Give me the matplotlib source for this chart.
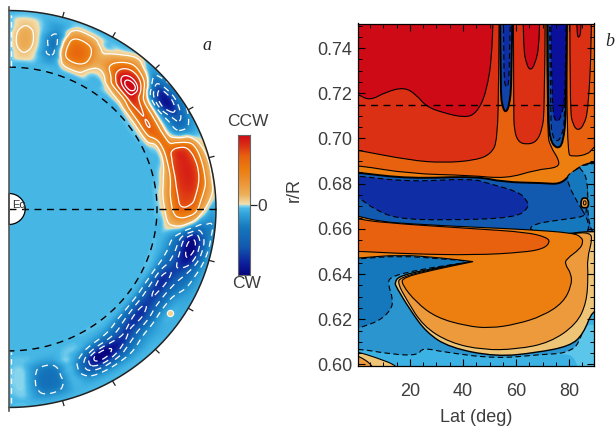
import numpy as np
import matplotlib
matplotlib.use("Agg")
import matplotlib.pyplot as plt
import matplotlib.tri as mtri
from matplotlib.colors import LinearSegmentedColormap
from matplotlib.patches import PathPatch, Polygon
from matplotlib.path import Path

plt.rcParams['font.family'] = ['Liberation Sans', 'DejaVu Sans']

TEXT = '#3d3d3d'

# panel a: rotation, one row per latitude, columns are r_a
r_a = [0.70, 0.74, 0.78, 0.82, 0.86, 0.90, 0.94, 0.98, 1.02]
lat_a = [90, 85, 80, 75, 70, 65, 60, 55, 50, 45, 40, 35, 30, 25, 20, 15, 10, 5, 0,
         -5, -10, -15, -20, -25, -30, -35, -40, -45, -50, -55, -60, -65, -70, -75, -80, -85, -90]
field_a = [
    [-.05, -.05, -.05, -.05, -.05, -.05, -.05, -.05, -.05],
    [-.05, -.05, .08, .18, .20, .18, .08, -.03, -.05],
    [-.05, -.05, -.03, -.03, -.03, -.03, -.03, -.05, -.05],
    [-.05, -.05, -.17, -.30, -.34, -.28, -.15, -.07, -.05],
    [-.05, -.05, .16, .50, .56, .50, .22, -.02, -.05],
    [-.05, -.05, .20, .54, .60, .50, .20, -.03, -.05],
    [-.05, -.05, -.03, .10, .22, .12, -.03, -.05, -.05],
    [-.05, -.05, -.03, .16, .50, .42, .14, -.03, -.05],
    [-.05, -.05, .18, .82, 1.05, .85, .45, .10, -.05],
    [-.05, -.05, .34, 1.0, 1.15, .72, .14, -.18, -.05],
    [-.05, .02, .60, .78, .28, -.40, -.70, -.35, -.10],
    [-.05, .05, .66, .66, .05, -.70, -.95, -.45, -.10],
    [-.05, .05, .66, .60, .00, -.35, -.62, -.32, -.10],
    [-.05, -.03, .12, .64, .10, -.14, -.22, -.15, -.05],
    [-.05, -.05, .02, .66, .82, .76, .50, .06, -.05],
    [-.05, -.04, .14, .74, .88, .88, .68, .18, -.05],
    [-.05, .00, .28, .76, .88, .88, .66, .18, -.05],
    [-.05, .05, .40, .74, .82, .78, .44, .14, -.05],
    [-.05, .02, .34, .66, .68, .55, .14, -.10, -.05],
    [-.05, -.05, .14, .22, .12, -.10, -.28, -.28, -.08],
    [-.05, -.05, -.12, -.30, -.70, -1.0, -.68, -.28, -.08],
    [-.05, -.05, -.18, -.42, -.78, -1.0, -.65, -.24, -.06],
    [-.05, -.05, -.26, -.55, -.72, -.65, -.38, -.17, -.05],
    [-.05, -.06, -.42, -.80, -.65, -.42, -.26, -.13, -.05],
    [-.05, -.10, -.50, -.76, -.55, -.26, -.12, -.10, -.05],
    [-.05, -.10, -.50, -.72, -.52, -.22, -.06, -.08, -.05],
    [-.05, -.10, -.50, -.80, -.60, -.26, -.12, -.08, -.05],
    [-.05, -.08, -.42, -.74, -.62, -.30, -.14, -.06, -.05],
    [-.05, -.06, -.28, -.60, -.78, -.46, -.20, -.06, -.05],
    [-.05, -.05, -.20, -.58, -.98, -.66, -.22, -.06, -.05],
    [-.05, -.05, -.15, -.55, -1.1, -.72, -.22, -.06, -.05],
    [-.05, -.05, -.05, -.26, -.52, -.48, -.17, -.06, -.05],
    [-.05, -.05, -.03, -.02, -.04, -.06, -.06, -.06, -.05],
    [-.05, -.05, -.10, -.28, -.36, -.36, -.27, -.10, -.05],
    [-.05, -.05, -.10, -.27, -.35, -.35, -.27, -.10, -.05],
    [-.05, -.05, -.035, -.02, -.02, -.025, -.03, -.05, -.05],
    [-.05, -.05, -.05, -.035, -.03, -.035, -.05, -.05, -.05],
]
spot_lat, spot_r = -34, 0.938
levels_pos = [.10, .42, .72, .98, 1.10]
levels_neg = [-.95, -.72, -.5, -.25]

# panel b: contour outlines, (lat, r)
corner_lat = [70.2, 79, 82.2, 83.4, 92, 92]
corner_r = [.604, .6049, .6028, .5976, .5976, .623]
mid_lat = [-3, 95, 95, 85, 79, 70.2, 52.6, 32.5, 24.7, 23, 13.6, .4, -3]
mid_r = [.67, .67, .66, .61, .6049, .6045, .6025, .6055, .6074, .604, .6044, .607, .606]
lobe_lat = [-3, .4, 16.1, 32.5, 43.8, 43.8, 28.7, 18.6, 12.4, 11.7, 13.6, 13, 8.6, .4, -3]
lobe_r = [.6465, .6467, .6481, .6467, .6455, .6455, .643, .6407, .6385, .6356, .6289, .6244, .6193, .616, .615]
top_lat = [-3, 92, 92, -3]
top_r = [.80, .80, .675, .675]
oa_lat = [-3, .4, 19.9, 42.5, 56.4, 67.7, 75.9, 76.3, 73, 71.7, 71.7, -3]
oa_r = [.6878, .6881, .6844, .6837, .6822, .6862, .6871, .6904, .6963, .7022, .80, .80]
ob_lat = [79.3, 79, 81.5, 87.2, 89.4, 91.6, 91.6]
ob_r = [.80, .6933, .6919, .693, .6963, .6978, .80]
red1_lat = [-3, .4, 19.9, 32.5, 45, 50.7, 53, 53.5, 53.9, -3]
red1_r = [.6952, .6948, .6904, .6892, .6904, .6933, .6993, .7274, .80, .80]
red2_lat = [58.9, 59.1, 59.3, 60.8, 64, 67.7, 69.8, 70.8, 71.2]
red2_r = [.80, .7126, .7037, .6985, .6973, .6985, .7037, .7126, .80]
red3_lat = [80.3, 80.3, 81.5, 83.4, 85.6, 87.2, 88.5, 88.8]
red3_r = [.80, .7126, .7059, .7034, .7059, .7126, .7422, .80]
deep1_lat = [-3, .4, 4.8, 11.1, 18, 22.4, 26.2, 32.5, 40.7, 45, 48.8, 51.3, 52.2, -3]
deep1_r = [.7205, .7196, .7167, .7207, .7227, .7193, .7141, .7114, .7092, .7111, .72, .7393, .80, .80]
deep2_lat = [62, 62.7, 64, 65.4, 67.1, 69, 69.6]
deep2_r = [.80, .74, .7326, .7301, .7326, .7422, .80]
deep3_lat = [82.4, 82.8, 83.7, 84.7, 85.1]
deep3_r = [.80, .7467, .7441, .7481, .80]
col1_lat = [53.9, 54.1, 54.9, 56, 57.4, 58.4, 58.9]
col1_r = [.80, .72, .7141, .7114, .7141, .7244, .80]
col1i_lat = [55.4, 55.2, 56.4, 57.6, 58.3]
col1i_r = [.80, .7274, .7215, .7259, .80]
col2_lat = [71.7, 72, 72.7, 75.5, 77.8, 79, 79.4]
col2_r = [.80, .7126, .6993, .6953, .6978, .7126, .80]
col2m_lat = [72.3, 73, 73.7, 75.5, 77.1, 78.6, 79.1]
col2m_r = [.80, .7081, .7007, .6985, .7007, .7081, .80]
col2i_lat = [72.7, 73.4, 75.2, 77.1, 78.8, 79]
col2i_r = [.80, .7126, .7067, .7096, .72, .80]
band_lat = [-5, .4, 19.9, 45, 55.1, 70.2, 76.5, 80.3, 84.1, 89.4, 91.6, 95, 95, -5]
band_r = [.6852, .6849, .6822, .6833, .6807, .6803, .6797, .6837, .6877, .6896, .6901, .6901, .65, .65]
bright_lat = [78, 81.5, 86.6, 87.3, 86.6, 85.9, 80, 66, 65, 92]
bright_r = [.6815, .686, .6877, .683, .6681, .6655, .6645, .6622, .6585, .655]
strip_lat = [83, 86.6, 92, 96, 96, 86.8, 87.3]
strip_r = [.6878, .6882, .6898, .6898, .65, .6595, .683]
deepb_lat = [-3, .4, 19.9, 43, 49.7, 61, 64, 65, 60, 32.5, 15.5, 7.3, .4, -3]
deepb_r = [.6835, .6834, .6808, .6823, .6801, .6764, .6727, .6697, .6648, .6638, .6645, .6681, .6741, .6755]
spotb_lat = [84.6, 85.9, 87.2, 87.4, 85.9, 84.4]
spotb_r = [.6733, .6738, .6733, .6697, .6692, .6697]
spotc_lat = [85.4, 85.9, 86.4, 86.4, 85.9, 85.4]
spotc_r = [.6722, .6725, .6722, .6708, .6705, .6708]
pale_lat = [14.9, 14.2, 16.1, 28.7, 43.8, 43.8, 36.2, 57.6, 82.8, 89.1, 92, 92, 89, 85.3, 80.3, 67.7, 52.6, 35, 26.2, 19.9]
pale_r = [.6341, .6363, .6393, .6425, .6456, .6456, .6496, .6541, .6585, .6588, .6588, .622, .6244, .6133, .6081, .6052, .6034, .6074, .6141, .6244]
light_lat = [15.5, 16.1, 28.7, 43.8, 43.8, 36.2, 57.6, 82.8, 87.8, 88.8, 86.8, 87.2, 86.6, 82.8, 72.7, 60.2, 47.6, 35, 24.9, 18.6]
light_r = [.6356, .6385, .6422, .6456, .6456, .6496, .6541, .6583, .6582, .6556, .6467, .6393, .6274, .6178, .6096, .6067, .6064, .6096, .617, .6289]
org_lat = [43.8, 43.8, 28.7, 17.4, 16.8, 22.4, 30, 41.3, 50.1, 60.2, 70.2, 77.8, 80.9, 80.9, 78.4, 79, 84.1, 85.3, 84.7,
           81.5, 64, 45, 19.9, 8.6, .4, -3, -3, .4, 16.1, 32.5]
org_r = [.6455, .6455, .6418, .6385, .6356, .6274, .6207, .617, .616, .6178, .6215, .6274, .6348, .64, .6444, .6467, .6511, .6541, .6563,
         .6582, .6597, .6607, .6622, .6633, .6656, .6665, .647, .647, .6486, .6471]
om_lat = [-3, .4, 8.6, 45, 64, 71.5, 72.9, 70.2, 62.7, 45, 19.9, .4, -3]
om_r = [.665, .6645, .6628, .66, .6585, .6563, .6541, .6511, .6496, .6484, .6489, .6501, .650]
cp_lat = [-3, .4, 7.3, 15.5, 16, -3]
cp_r = [.606, .6055, .603, .5993, .595, .595]
cl_lat = [-3, .4, 6.1, 6.5, -3]
cl_r = [.6045, .604, .5996, .595, .595]

tick_lat = [20, 40, 60, 80]
tick_r = [0.60, 0.62, 0.64, 0.66, 0.68, 0.70, 0.72, 0.74]

cmap = LinearSegmentedColormap.from_list('ccw', [
    (0.0, '#07067f'), (0.08, '#0d1f9c'), (0.2, '#1259b0'), (0.335, '#1577bc'), (0.43, '#2fa0d8'),
    (0.475, '#47b8e6'), (0.495, '#8ad6ee'), (0.505, '#f4e0b0'), (0.575, '#ecb05a'), (0.675, '#ec9030'),
    (0.75, '#ec7f10'), (0.85, '#e8610f'), (0.925, '#dc3015'), (1.0, '#cf0a17')])

fig = plt.figure(figsize=(6.15, 4.29), dpi=100)


def rect(x0, y0, x1, y1):
    # pixel box of the reference -> figure fraction
    return [x0 / 615, 1 - y1 / 429, (x1 - x0) / 615, (y1 - y0) / 429]


def label(x, y, s, **kw):
    fig.text(x / 615, 1 - y / 429, s, ha='center', va='center', **kw)


# ---- panel a
ax_a = fig.add_axes(rect(1, 3, 237, 415))
ax_a.set_xlim(-0.0386, 1.1014)
ax_a.set_ylim(-1.038, 1.038)
ax_a.axis('off')

lat_g, r_g = np.meshgrid(np.array(lat_a, float), np.array(r_a, float), indexing='ij')
tri = mtri.Triangulation((lat_g / 5).ravel(), (r_g / 0.04).ravel())
interp = mtri.CubicTriInterpolator(tri, np.array(field_a).ravel(), kind='geom')

xs = np.linspace(-0.1, 1.13, 600)
ys = np.linspace(-1.13, 1.13, 1100)
xx, yy = np.meshgrid(xs, ys)
rr = np.hypot(xx, yy)
tt = np.degrees(np.arctan2(yy, xx))
smooth = interp(tt / 5, rr / 0.04).filled(-.05)
smooth[rr < 0.70] = -.05

# soften the cell structure of the read grid, the original map is a smooth field
kernel = np.hanning(25)
kernel = kernel / kernel.sum()
smooth = np.apply_along_axis(lambda a: np.convolve(a - a[0], kernel, mode='same') + a[0], 0, smooth)
smooth = np.apply_along_axis(lambda a: np.convolve(a - a[0], kernel, mode='same') + a[0], 1, smooth)
# the south has no positive patches apart from the one spot
south = tt < -8
smooth[south] = np.minimum(smooth[south], -.012)

arc = np.radians(np.linspace(90, -90, 361))
disc = Polygon(np.c_[np.cos(arc), np.sin(arc)], closed=True, transform=ax_a.transData, fc='none', ec='none')
ax_a.add_patch(disc)
im = ax_a.imshow(smooth, extent=[-0.1, 1.13, -1.13, 1.13], origin='lower', cmap=cmap, vmin=-1, vmax=1,
                 aspect='auto', interpolation='bilinear')
im.set_clip_path(disc)
c1 = ax_a.contour(xx, yy, smooth, levels=levels_pos, colors='white', linewidths=0.9)
c2 = ax_a.contour(xx, yy, smooth, levels=levels_neg, colors='white', linewidths=0.9,
                  linestyles=[(0, (5, 4))])
c1.set_clip_path(disc)
c2.set_clip_path(disc)
ax_a.plot(np.cos(np.radians(spot_lat)) * spot_r, np.sin(np.radians(spot_lat)) * spot_r, 'o', ms=4.5,
          mfc='#f3d48a', mec='white', mew=0.8)

hole = np.radians(np.linspace(90, -90, 91))
ax_a.fill(0.078 * np.cos(hole), 0.078 * np.sin(hole), fc='white', ec='black', lw=0.9)
ax_a.plot(np.cos(arc), np.sin(arc), color='#222222', lw=1.1)
ax_a.plot(0.715 * np.cos(arc), 0.715 * np.sin(arc), color='black', lw=1.0, ls=(0, (5, 4)))
ax_a.plot([0.0, 1.02], [0, 0], color='black', lw=1.0, ls=(0, (5, 4)))
ax_a.plot([0, 0], [-1.02, 1.02], color='#555555', lw=1.2)
ax_a.plot([0.012, 0.012], [0.72, 0.98], color='white', lw=1.0, ls=(0, (4, 3)))
ax_a.plot([0.012, 0.012], [-0.98, -0.72], color='white', lw=1.0, ls=(0, (4, 3)))
for t in [75, 60, 45, 30, 15, -15, -30, -45, -60, -75]:
    a = np.radians(t)
    ax_a.plot([np.cos(a), 1.025 * np.cos(a)], [np.sin(a), 1.025 * np.sin(a)], color='#222222', lw=0.9)
label(19, 205, 'Eq', fontsize=8, color='#333333')
label(207, 46, 'a', fontsize=13, style='italic', family='Liberation Serif', color='#222222')

# ---- colour bar
ax_c = fig.add_axes(rect(238, 135, 250, 275))
ax_c.imshow(np.linspace(1, -1, 256)[:, None], cmap=cmap, vmin=-1, vmax=1, aspect='auto', extent=[0, 1, -1, 1])
ax_c.set_xticks([])
ax_c.yaxis.tick_right()
ax_c.set_yticks([0])
ax_c.set_yticklabels(['0'], fontsize=12.5, color=TEXT)
ax_c.tick_params(axis='y', length=5, width=0.9, pad=0, color='#222222')
for s in ax_c.spines.values():
    s.set_color('#666666')
    s.set_linewidth(0.8)
label(248, 122, 'CCW', fontsize=12.5, color=TEXT)
label(247, 284, 'CW', fontsize=12.5, color=TEXT)

# ---- panel b
ax_b = fig.add_axes(rect(358, 23.5, 594, 366))
ax_b.set_xlim(0.4, 89.4)
ax_b.set_ylim(0.5993, 0.7509)


def shape(lat, r, color, lw=0.8, dashed=False, edge='black'):
    # closed outline rounded with quadratic segments between the read vertices
    v = np.c_[lat, r]
    mids = (v + np.roll(v, -1, axis=0)) / 2
    verts = [mids[-1]]
    codes = [Path.MOVETO]
    for i in range(len(v)):
        verts += [v[i], mids[i]]
        codes += [Path.CURVE3, Path.CURVE3]
    p = PathPatch(Path(verts, codes), fc=color, ec=edge, lw=lw, ls=(0, (5, 3)) if dashed else '-')
    ax_b.add_patch(p)


ax_b.set_facecolor('#3cb2e4')
shape(corner_lat, corner_r, '#5cc6ea', edge='none')
shape(mid_lat, mid_r, '#2a95cf', dashed=True)
shape(lobe_lat, lobe_r, '#1577bc', dashed=True)
ax_b.fill(top_lat, top_r, color='#ec7f10', lw=0)
shape(oa_lat, oa_r, '#e8610f')
shape(ob_lat, ob_r, '#e8610f')
shape(red1_lat, red1_r, '#dc3015')
shape(red2_lat, red2_r, '#dc3015')
shape(red3_lat, red3_r, '#dc3015')
shape(deep1_lat, deep1_r, '#cf0a17')
shape(deep2_lat, deep2_r, '#cf0a17')
shape(deep3_lat, deep3_r, '#cf0a17')
shape(col1_lat, col1_r, '#1144a8', lw=1.4)
shape(col1i_lat, col1i_r, '#0f2ea6', dashed=True)
shape(col2_lat, col2_r, '#1259b0', lw=1.4)
shape(col2m_lat, col2m_r, '#1144a8', dashed=True)
shape(col2i_lat, col2i_r, '#0a109a', dashed=True)
shape(band_lat, band_r, '#1259b0', lw=1.4)
shape(bright_lat, bright_r, '#1577bc', dashed=True)
shape(strip_lat, strip_r, '#2a95cf', dashed=True)
shape(deepb_lat, deepb_r, '#0f2ea6', dashed=True)
shape(spotb_lat, spotb_r, '#ec9a3c', lw=1.2)
shape(spotc_lat, spotc_r, '#ec9a3c', lw=0.7)
shape(pale_lat, pale_r, '#eec477', lw=1.0)
shape(light_lat, light_r, '#ec9a3c')
shape(org_lat, org_r, '#ec7f10')
shape(om_lat, om_r, '#e8610f')
shape(cp_lat, cp_r, '#eec477')
shape(cl_lat, cl_r, '#ec9a3c')

ax_b.axhline(0.715, color='black', lw=1.0, ls=(0, (5, 4)))
ax_b.set_xticks(tick_lat)
ax_b.set_xticks(np.arange(5, 90, 5), minor=True)
ax_b.set_yticks(tick_r)
ax_b.set_yticklabels(['%.2f' % t for t in tick_r])
ax_b.set_yticks(np.arange(0.60, 0.751, 0.005), minor=True)
ax_b.tick_params(which='major', direction='in', top=True, right=True, length=5, width=0.8,
                 labelsize=13, labelcolor=TEXT)
ax_b.tick_params(which='minor', direction='in', top=True, right=True, length=3, width=0.7)
ax_b.tick_params(axis='y', which='major', pad=4)
ax_b.tick_params(axis='x', which='major', pad=12)
for s in ax_b.spines.values():
    s.set_linewidth(0.9)
label(476, 417, 'Lat (deg)', fontsize=13, color=TEXT)
label(294, 190, 'r/R', fontsize=13, color=TEXT, rotation=90)
label(610, 41, 'b', fontsize=13, style='italic', family='Liberation Serif', color='#222222')

fig.savefig('out.png', dpi=100)
